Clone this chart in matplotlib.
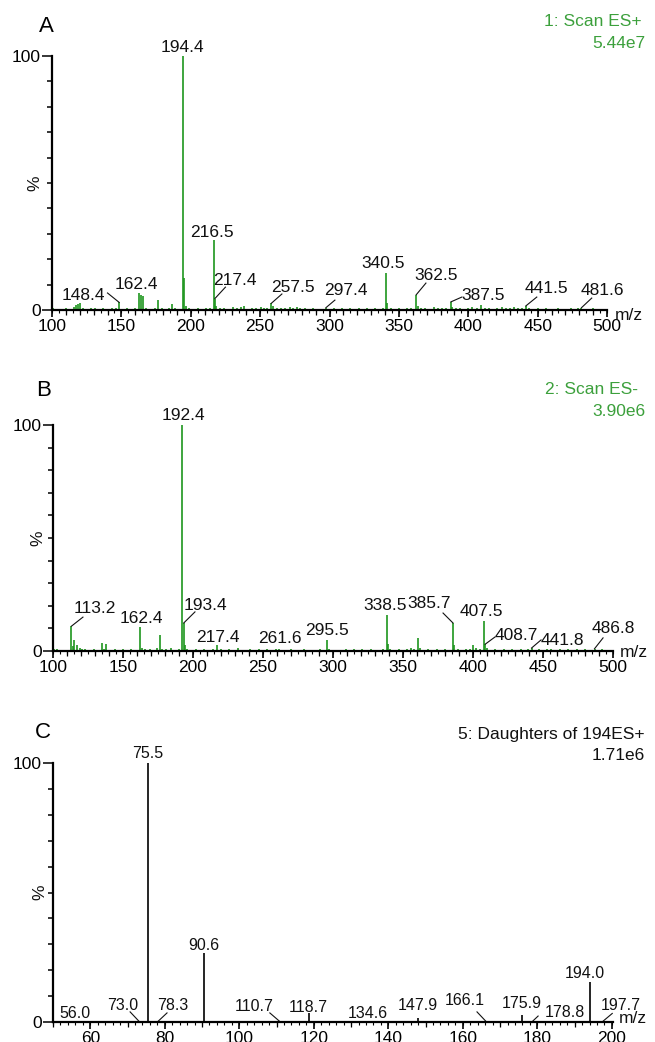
import numpy as np
import matplotlib
matplotlib.use("Agg")
import matplotlib.pyplot as plt

plt.rcParams['font.family'] = ['Liberation Sans', 'DejaVu Sans']

# ---------------- data ----------------
A_mz = [101, 104, 107, 110, 113, 115.5, 117.3, 118.4, 120.3, 122, 125, 128, 131.2, 134, 137, 140.5, 143, 146,
        148.4, 151, 154, 157, 160, 162.4, 164.4, 165.4, 168, 171, 174, 176.4, 179, 182, 184, 186.3, 189, 191,
        194.4, 195.4, 196.4, 199, 202, 205, 208, 211, 214, 216.5, 217.4, 218.4, 221, 224, 227, 230.5, 233, 236,
        238.4, 241, 244, 247, 250.3, 252.5, 255, 257.5, 259.3, 262, 265, 268, 271.5, 274, 276.3, 279, 282, 285,
        288, 291, 294, 297.4, 300, 303, 306, 309, 312, 315, 318, 321, 324, 327, 330, 333, 336, 338.5, 340.5,
        341.5, 344, 347, 350, 353, 356, 359, 362.5, 363.5, 366, 369, 372, 375, 378, 381, 384, 387.5, 388.5, 391,
        394, 397, 400, 403, 406, 409.3, 412, 415, 418, 421, 424, 427, 430, 433, 436, 439, 441.5, 444, 447, 450,
        453, 456, 459, 462, 465, 468, 471, 474, 477, 479, 481.6, 484, 487, 490, 493, 496, 499]
A_int = [0.6, 0.4, 0.5, 0.7, 0.5, 1.2, 1.8, 2.2, 2.6, 0.8, 0.5, 0.9, 0.6, 0.4, 0.7, 0.5, 0.6, 0.8,
         3.0, 0.5, 0.6, 0.4, 0.9, 6.8, 5.8, 5.5, 0.7, 0.5, 0.8, 4.0, 0.6, 0.5, 0.9, 2.2, 0.7, 0.5,
         100, 12.5, 1.5, 0.6, 0.5, 0.8, 0.4, 0.6, 0.9, 27.5, 4.5, 1.5, 0.6, 0.8, 0.5, 1.3, 0.6, 1.0,
         1.4, 0.5, 0.7, 0.6, 1.2, 0.8, 0.9, 2.6, 1.5, 0.7, 0.6, 0.8, 1.3, 0.9, 1.1, 0.6, 0.8, 0.5,
         0.6, 0.4, 0.5, 0.9, 0.4, 0.6, 0.5, 0.7, 0.4, 0.6, 0.5, 0.8, 0.5, 0.6, 0.4, 0.7, 0.5, 0.8, 14.6,
         2.8, 0.6, 0.5, 0.7, 0.4, 0.6, 0.8, 6.0, 1.5, 0.6, 0.8, 0.5, 1.0, 0.6, 0.9, 0.7, 3.2, 1.2, 0.6,
         0.8, 0.5, 0.7, 1.0, 0.6, 2.0, 0.8, 0.6, 0.5, 0.7, 1.0, 0.6, 0.8, 1.1, 0.7, 0.9, 1.6, 0.6, 0.5, 0.7,
         0.4, 0.6, 0.5, 0.4, 0.6, 0.5, 0.4, 0.6, 0.5, 0.7, 0.9, 0.5, 0.4, 0.6, 0.4, 0.5, 0.4]

B_mz = [101, 103, 105, 108, 110, 113.2, 114.2, 115.2, 117, 119, 121, 123, 126, 129, 132, 135, 136.5, 138, 141,
        144, 147, 150, 153, 156, 159, 162.4, 163.4, 166, 169, 172, 174, 176.4, 178, 181, 184, 187, 190, 192.4,
        193.4, 194.4, 196, 199, 202, 205, 208, 211, 214, 217.4, 220, 223, 226, 229, 232, 235, 238, 241, 244,
        247, 250, 253, 256, 259, 261.6, 264, 267, 270, 273, 276, 279, 282, 285, 288, 291, 293, 295.5, 297,
        300, 303, 306, 309, 312, 315, 318, 321, 324, 327, 330, 333, 336, 338.5, 339.5, 341, 344, 347, 350,
        353, 356, 358, 361, 362, 365, 368, 371, 374, 377, 380, 383, 385.7, 386.7, 389, 392, 395, 398, 400,
        402, 405, 407.5, 408.7, 410, 413, 416, 419, 422, 425, 428, 431, 434, 437, 439.5, 441.8, 444, 447,
        450, 453, 456, 459, 462, 465, 468, 471, 474, 477, 480, 483, 486.8, 489, 492, 495, 498]
B_int = [1.0, 0.7, 0.5, 0.6, 0.4, 11.0, 2.0, 5.0, 2.5, 1.5, 0.8, 1.0, 0.6, 0.7, 0.5, 3.5, 1.0, 3.0, 0.6,
         0.8, 0.5, 1.0, 0.6, 0.8, 0.5, 10.6, 1.5, 0.7, 0.9, 0.6, 1.2, 7.0, 1.0, 0.8, 1.2, 0.6, 1.0, 100,
         12.4, 2.5, 1.0, 0.6, 0.8, 0.5, 0.7, 0.6, 0.9, 2.5, 0.7, 0.5, 0.8, 0.4, 1.5, 0.6, 0.5, 0.7, 0.4,
         0.8, 0.6, 0.9, 0.5, 0.7, 1.0, 0.6, 0.5, 0.8, 0.6, 0.4, 0.7, 0.5, 0.6, 0.4, 0.7, 0.5, 5.0, 0.8,
         0.5, 0.6, 0.4, 0.7, 0.5, 0.8, 0.5, 0.7, 0.6, 0.9, 0.5, 0.6, 0.8, 16.0, 3.0, 0.9, 0.6, 1.0, 0.5,
         0.7, 1.2, 0.8, 5.8, 1.2, 0.6, 0.8, 0.5, 0.7, 0.6, 0.9, 0.5, 12.4, 2.5, 0.7, 0.5, 0.8, 1.0, 2.5,
         1.5, 0.8, 13.3, 3.0, 1.2, 0.6, 0.8, 0.5, 0.7, 0.6, 0.9, 0.5, 0.7, 0.6, 1.0, 1.3, 0.6, 0.8,
         0.5, 0.7, 1.0, 0.6, 0.8, 0.5, 0.9, 0.6, 0.7, 0.5, 0.8, 0.6, 1.0, 0.5, 0.7, 0.4, 0.6]

C_mz = [56.0, 73.0, 75.5, 78.3, 90.6, 110.7, 118.7, 134.6, 147.9, 166.1, 175.9, 178.8, 194.0, 197.7]
C_int = [0.4, 0.4, 100, 0.4, 26.6, 0.4, 3.5, 0.4, 1.5, 0.4, 2.7, 0.4, 15.4, 0.4]

A_xticks = [100, 150, 200, 250, 300, 350, 400, 450, 500]
B_xticks = [100, 150, 200, 250, 300, 350, 400, 450, 500]
C_xticks = [60, 80, 100, 120, 140, 160, 180, 200]

# label text, text x (centre), text baseline y, leader line (x0, y0, x1, y1) or None
A_labels = [
    ("194.4", 193.7, 101.6, None),
    ("216.5", 215.0, 28.7, None),
    ("217.4", 232.0, 9.8, (217.4, 4.5, 225.0, 9.0)),
    ("162.4", 161.0, 8.3, None),
    ("148.4", 122.6, 4.0, (148.4, 3.0, 140.0, 6.7)),
    ("257.5", 273.6, 7.0, (258.0, 2.6, 265.7, 6.3)),
    ("297.4", 312.0, 6.0, (297.4, 0.9, 303.9, 3.9)),
    ("340.5", 338.5, 16.5, None),
    ("362.5", 376.7, 12.0, (362.5, 6.0, 369.5, 10.6)),
    ("387.5", 411.0, 4.0, (387.5, 3.2, 395.4, 5.1)),
    ("441.5", 456.6, 6.7, (441.5, 1.6, 449.4, 5.1)),
    ("481.6", 497.0, 6.0, (481.6, 0.9, 489.0, 4.7)),
]
B_labels = [
    ("192.4", 192.9, 102.0, None),
    ("193.4", 209.0, 18.0, (193.4, 12.4, 201.4, 17.3)),
    ("113.2", 130.0, 16.8, (113.2, 11.0, 121.4, 15.0)),
    ("162.4", 163.0, 12.4, None),
    ("217.4", 217.9, 4.0, None),
    ("261.6", 262.0, 3.5, None),
    ("295.5", 295.7, 7.0, None),
    ("338.5", 337.0, 18.0, None),
    ("385.7", 369.0, 19.0, (385.7, 12.4, 378.6, 16.8)),
    ("407.5", 405.7, 15.5, None),
    ("408.7", 431.0, 5.0, (408.7, 3.0, 415.7, 6.2)),
    ("441.8", 463.6, 2.6, (441.8, 1.3, 448.6, 4.9)),
    ("486.8", 500.0, 8.0, (486.8, 1.0, 492.9, 5.8)),
]
C_labels = [
    ("75.5", 75.5, 102.0, None),
    ("90.6", 90.4, 27.8, None),
    ("56.0", 55.9, 1.5, None),
    ("73.0", 68.8, 4.6, (73.0, 0.4, 70.7, 3.9)),
    ("78.3", 82.2, 4.6, (78.3, 0.4, 80.6, 3.5)),
    ("110.7", 104.0, 4.4, (110.7, 0.4, 108.2, 3.5)),
    ("118.7", 118.4, 4.0, None),
    ("134.6", 134.5, 1.5, None),
    ("147.9", 148.0, 4.6, None),
    ("166.1", 160.6, 6.6, (166.1, 0.4, 163.8, 3.9)),
    ("175.9", 175.9, 5.4, None),
    ("178.8", 187.4, 2.0, (178.8, 0.4, 180.2, 2.3)),
    ("194.0", 192.8, 17.0, None),
    ("197.7", 202.3, 4.6, (197.7, 0.4, 200.1, 3.3)),
]

GREEN = '#1e961e'
GREEN_TXT = '#3ca03c'

fig = plt.figure(figsize=(6.55, 10.42), dpi=100)


def panel(rect, mz, inten, color, xlim, xticks, mid, minor, labels, lab_size,
          mz_pos, pct_x):
    ax = fig.add_axes(rect)
    ax.vlines(mz, 0, inten, colors=color, lw=1.2)
    ax.set_xlim(*xlim)
    ax.set_ylim(0, 100)
    for s in ('top', 'right'):
        ax.spines[s].set_visible(False)
    for s in ('left', 'bottom'):
        ax.spines[s].set_linewidth(1.6)
    ax.set_yticks([0, 100])
    ax.set_yticks(np.arange(0, 101, 10), minor=True)
    ax.set_xticks(xticks)
    ax.set_xticks(np.arange(xlim[0], xlim[1] + 0.01, mid), minor=True)
    ax.tick_params(axis='y', which='major', length=7, width=1.1, labelsize=12.5, pad=1)
    ax.tick_params(axis='y', which='minor', length=3.6, width=1.1)
    ax.tick_params(axis='x', which='major', length=5, width=1.2, labelsize=12.5, pad=1.5)
    ax.tick_params(axis='x', which='minor', length=3.5, width=0.9)
    sec = ax.secondary_xaxis('bottom')
    sec.spines['bottom'].set_visible(False)
    sec.set_xticks(np.arange(xlim[0], xlim[1] + 0.01, minor))
    sec.tick_params(axis='x', length=2.2, width=0.8, labelbottom=False)
    for txt, tx, ty, lead in labels:
        ax.text(tx, ty, txt, ha='center', va='baseline', fontsize=lab_size,
                color='#111111')
        if lead is not None:
            ax.plot([lead[0], lead[2]], [lead[1], lead[3]], color='#111111', lw=0.8,
                    clip_on=False)
    ax.text(mz_pos[0], mz_pos[1], 'm/z', transform=ax.transAxes, ha='center', va='center',
            fontsize=12.5, color='#111111')
    ax.text(pct_x, 0.5, '%', transform=ax.transAxes, rotation=90, ha='center', va='center',
            fontsize=12.5, color='#111111')
    return ax


W, H = 655.0, 1042.0

axA = panel([52 / W, 1 - 310 / H, 555 / W, 254 / H], A_mz, A_int, GREEN, (100, 500),
            A_xticks, 10, 5, A_labels, 12.5, (1.040, -0.02), -0.031)
axB = panel([53 / W, 1 - 651 / H, 560 / W, 226 / H], B_mz, B_int, GREEN, (100, 500),
            B_xticks, 10, 5, B_labels, 12.5, (1.0375, -0.005), -0.027)
axC = panel([53 / W, 1 - 1022 / H, 560 / W, 259 / H], C_mz, C_int, 'black', (50, 200.3),
            C_xticks, 10, 2, C_labels, 11.5, (1.036, 0.012), -0.023)

# panel letters
fig.text(46 / W, 1 - 27 / H, 'A', fontsize=16, ha='center', va='center')
fig.text(44 / W, 1 - 390 / H, 'B', fontsize=16, ha='center', va='center')
fig.text(43 / W, 1 - 732 / H, 'C', fontsize=16, ha='center', va='center')

# scan headers
fig.text(642 / W, 1 - 22 / H, '1: Scan ES+', fontsize=12.5, ha='right', va='center', color=GREEN_TXT)
fig.text(645 / W, 1 - 43 / H, '5.44e7', fontsize=12.5, ha='right', va='center', color=GREEN_TXT)
fig.text(638 / W, 1 - 390 / H, '2: Scan ES-', fontsize=12.5, ha='right', va='center', color=GREEN_TXT)
fig.text(645 / W, 1 - 412 / H, '3.90e6', fontsize=12.5, ha='right', va='center', color=GREEN_TXT)
fig.text(645 / W, 1 - 735 / H, '5: Daughters of 194ES+', fontsize=12.5, ha='right', va='center',
         color='#111111')
fig.text(645 / W, 1 - 755 / H, '1.71e6', fontsize=12.5, ha='right', va='center',
         color='#111111')

fig.savefig('out.png', dpi=100)
